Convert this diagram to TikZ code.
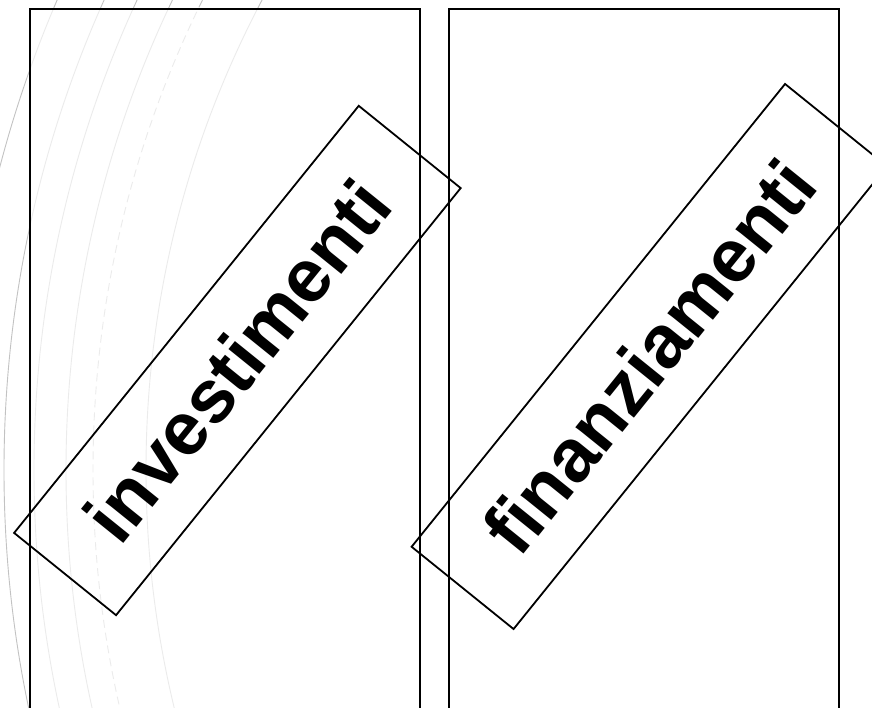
\documentclass[tikz,border=0pt]{standalone}
\usepackage{fontspec}
\newfontfamily\arialfont{Liberation Sans}
\begin{document}
\begin{tikzpicture}[x=1pt,y=-1pt,
  arcline/.style={draw=black!24, line width=0.9pt},
  panel/.style={draw=black, line width=1.8pt, fill=white, fill opacity=0.68, draw opacity=1, anchor=north west, inner sep=0pt},
  rotbox/.style={draw=black, line width=1.8pt, rotate=51.1, inner sep=0pt, minimum height=131pt,
     font={\arialfont\bfseries\fontsize{75}{75}\selectfont}, text opacity=1}]
\useasboundingbox (0,0) rectangle (872,708);
\clip (0,0) rectangle (872,708);
\coordinate (ctr) at (1154,470);
% background arcs
\draw[arcline] (ctr) circle[radius=1193pt];
\draw[arcline] (ctr) circle[radius=1150pt];
\draw[arcline] (ctr) circle[radius=1120pt];
\draw[arcline] (ctr) circle[radius=1088pt];
\draw[arcline, dash pattern=on 8pt off 5pt] (ctr) circle[radius=1061pt];
\draw[arcline] (ctr) circle[radius=1008pt];
% panels
\node[panel, minimum width=389.7pt, minimum height=760pt] (left) at (29.3,8) {};
\node[panel, minimum width=390pt, minimum height=760pt] (right) at (447.7,8) {};
% rotated labels
\node[rotbox, minimum width=548.8pt] (inv) at (237.4,360.5) {investimenti};
\node[rotbox, minimum width=594.7pt] (fin) at (649.3,356.5) {finanziamenti};
\end{tikzpicture}
\end{document}
